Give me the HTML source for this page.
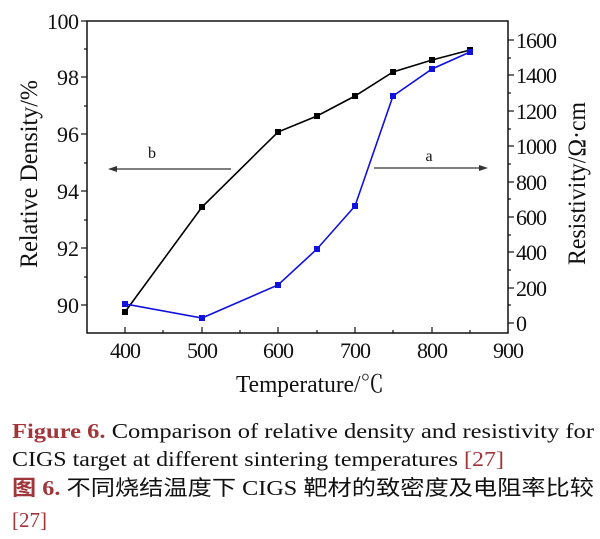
<!DOCTYPE html>
<html><head><meta charset="utf-8"><style>
html,body{margin:0;padding:0;background:#fff;width:600px;height:539px;overflow:hidden}
svg{display:block}
text{font-family:"Liberation Serif","Noto Serif CJK SC",serif;fill:#111}
.cn{font-family:"Liberation Serif","Noto Sans CJK SC",sans-serif}
</style></head><body>
<svg width="600" height="539" viewBox="0 0 600 539" xmlns="http://www.w3.org/2000/svg">
<rect x="87" y="21" width="421" height="312" fill="none" stroke="#111" stroke-width="1.5"/>
<g stroke="#111" stroke-width="1.2">
<line x1="81" y1="21" x2="87" y2="21"/><line x1="84" y1="49" x2="87" y2="49"/>
<line x1="81" y1="77" x2="87" y2="77"/><line x1="84" y1="106" x2="87" y2="106"/>
<line x1="81" y1="134" x2="87" y2="134"/><line x1="84" y1="163" x2="87" y2="163"/>
<line x1="81" y1="191" x2="87" y2="191"/><line x1="84" y1="220" x2="87" y2="220"/>
<line x1="81" y1="248" x2="87" y2="248"/><line x1="84" y1="277" x2="87" y2="277"/>
<line x1="81" y1="305" x2="87" y2="305"/>
<line x1="508" y1="40" x2="514" y2="40"/><line x1="508" y1="58" x2="511" y2="58"/>
<line x1="508" y1="75" x2="514" y2="75"/><line x1="508" y1="93" x2="511" y2="93"/>
<line x1="508" y1="111" x2="514" y2="111"/><line x1="508" y1="129" x2="511" y2="129"/>
<line x1="508" y1="146" x2="514" y2="146"/><line x1="508" y1="164" x2="511" y2="164"/>
<line x1="508" y1="182" x2="514" y2="182"/><line x1="508" y1="199" x2="511" y2="199"/>
<line x1="508" y1="217" x2="514" y2="217"/><line x1="508" y1="235" x2="511" y2="235"/>
<line x1="508" y1="252" x2="514" y2="252"/><line x1="508" y1="270" x2="511" y2="270"/>
<line x1="508" y1="288" x2="514" y2="288"/><line x1="508" y1="305" x2="511" y2="305"/>
<line x1="508" y1="323" x2="514" y2="323"/>
<line x1="125" y1="333" x2="125" y2="327"/><line x1="163" y1="333" x2="163" y2="330"/>
<line x1="202" y1="333" x2="202" y2="327"/><line x1="240" y1="333" x2="240" y2="330"/>
<line x1="278" y1="333" x2="278" y2="327"/><line x1="317" y1="333" x2="317" y2="330"/>
<line x1="355" y1="333" x2="355" y2="327"/><line x1="393" y1="333" x2="393" y2="330"/>
<line x1="432" y1="333" x2="432" y2="327"/><line x1="470" y1="333" x2="470" y2="330"/>
</g>
<g font-size="22" lengthAdjust="spacingAndGlyphs">
<text x="47" y="29" textLength="32">100</text><text x="57" y="85" textLength="22">98</text><text x="57" y="142" textLength="22">96</text>
<text x="57" y="199" textLength="22">94</text><text x="57" y="256" textLength="22">92</text><text x="57" y="313" textLength="22">90</text>
</g>
<g font-size="22" lengthAdjust="spacingAndGlyphs">
<text x="516" y="48" textLength="41">1600</text><text x="516" y="83" textLength="41">1400</text><text x="516" y="119" textLength="41">1200</text>
<text x="516" y="154" textLength="41">1000</text><text x="516" y="190" textLength="31">800</text><text x="516" y="225" textLength="31">600</text>
<text x="516" y="260" textLength="31">400</text><text x="516" y="296" textLength="31">200</text><text x="516" y="331" textLength="10">0</text>
</g>
<g font-size="22" lengthAdjust="spacingAndGlyphs">
<text x="110" y="358" textLength="31">400</text><text x="187" y="358" textLength="31">500</text><text x="263" y="358" textLength="31">600</text>
<text x="340" y="358" textLength="31">700</text><text x="417" y="358" textLength="31">800</text><text x="493" y="358" textLength="31">900</text>
</g>
<text x="236" y="392" font-size="24" textLength="148" lengthAdjust="spacingAndGlyphs">Temperature/℃</text>
<text transform="translate(37,268) rotate(-90)" font-size="25" textLength="188" lengthAdjust="spacingAndGlyphs">Relative Density/%</text>
<text transform="translate(585,265) rotate(-90)" font-size="25" textLength="163" lengthAdjust="spacingAndGlyphs">Resistivity/Ω·cm</text>
<g stroke="#333" stroke-width="1.2">
<line x1="231" y1="169" x2="113" y2="169"/><line x1="374" y1="168" x2="483" y2="168"/>
</g>
<polygon points="108,169 117,166 117,172" fill="#333"/>
<polygon points="488,168 479,165 479,171" fill="#333"/>
<text x="152" y="158" font-size="16" text-anchor="middle">b</text>
<text x="429" y="161" font-size="16" text-anchor="middle">a</text>
<polyline fill="none" stroke="#000" stroke-width="1.6" points="125,312 202,207 278,132 317,116 355,96 393,72 432,60 470,50"/>
<g fill="#000">
<rect x="122" y="309" width="6" height="6"/><rect x="199" y="204" width="6" height="6"/>
<rect x="275" y="129" width="6" height="6"/><rect x="314" y="113" width="6" height="6"/>
<rect x="352" y="93" width="6" height="6"/><rect x="390" y="69" width="6" height="6"/>
<rect x="429" y="57" width="6" height="6"/><rect x="467" y="47" width="6" height="6"/>
</g>
<polyline fill="none" stroke="#1010e0" stroke-width="1.6" points="125,304 202,318 278,285 317,249 355,206 393,96 432,69 470,52"/>
<g fill="#1010e0">
<rect x="122" y="301" width="6" height="6"/><rect x="199" y="315" width="6" height="6"/>
<rect x="275" y="282" width="6" height="6"/><rect x="314" y="246" width="6" height="6"/>
<rect x="352" y="203" width="6" height="6"/><rect x="390" y="93" width="6" height="6"/>
<rect x="429" y="66" width="6" height="6"/><rect x="467" y="49" width="6" height="6"/>
</g>
<text x="12" y="438" font-size="21" textLength="582" lengthAdjust="spacingAndGlyphs"><tspan style="fill:#a0353a" font-weight="bold">Figure 6.</tspan> Comparison of relative density and resistivity for</text>
<text x="12" y="466" font-size="21" textLength="492" lengthAdjust="spacingAndGlyphs">CIGS target at different sintering temperatures <tspan style="fill:#a0353a">[27]</tspan></text>
<text class="cn" x="12" y="495" font-size="21" textLength="582" lengthAdjust="spacingAndGlyphs"><tspan style="fill:#a0353a" font-weight="bold">图 6.</tspan> 不同烧结温度下 CIGS 靶材的致密度及电阻率比较</text>
<text x="12" y="527" font-size="21" style="fill:#a0353a">[27]</text>
</svg>
</body></html>
